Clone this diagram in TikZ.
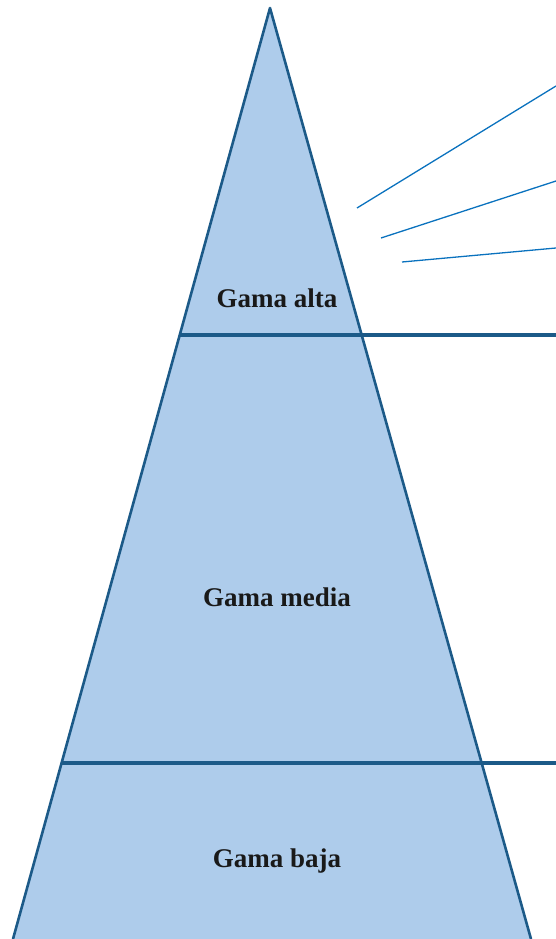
\documentclass[tikz,border=0pt]{standalone}
\usepackage{fontspec}
\setmainfont{Liberation Serif}
\usepackage{tikz}
\definecolor{gamafill}{RGB}{174,204,235}
\definecolor{gamaline}{RGB}{28,90,136}
\definecolor{gamacall}{RGB}{10,114,190}
\tikzset{
	gama/.style={font=\fontsize{27}{30}\selectfont\bfseries, text=black!90},
	divider/.style={line width=3.4pt, color=gamaline},
	callout/.style={line width=1.3pt, color=gamacall}
}

\begin{document}
\begin{tikzpicture}[x=1pt, y=-1pt]
			%%%%% START %%%%%
			\useasboundingbox (0, 0) rectangle (556, 939);
			
			\draw[fill=gamafill, draw=gamaline, line width=2.6pt, line join=round] (13, 939) -- (270, 8) -- (531, 939);
			
			\draw[divider] (180, 335) -- (556, 335);
			\draw[divider] (61, 763) -- (556, 763);
			
			\coordinate (c1a) at (357, 208);
			\coordinate (c1b) at (556, 86);
			\coordinate (c2a) at (381, 238);
			\coordinate (c2b) at (556, 181);
			\coordinate (c3a) at (402, 262);
			\coordinate (c3b) at (556, 248);
			\draw[callout] (c1a) -- (c1b);
			\draw[callout] (c2a) -- (c2b);
			\draw[callout] (c3a) -- (c3b);
			
			\node[gama] (alta) at (277, 298) {Gama alta};
			\node[gama] (media) at (277, 597) {Gama media};
			\node[gama] (baja) at (277, 861) {Gama baja};
			
			%%%%% END %%%%%
		\end{tikzpicture}
\end{document}
